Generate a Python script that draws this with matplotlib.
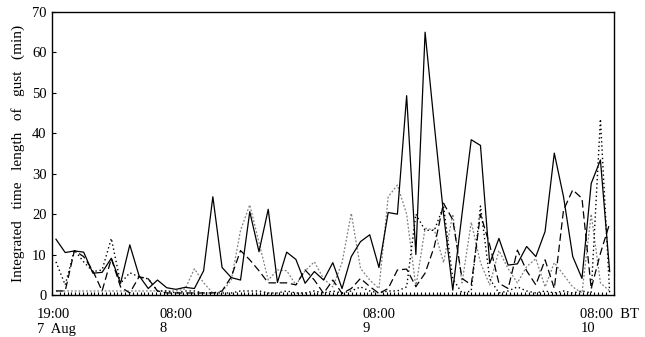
import numpy as np
import matplotlib.pyplot as plt
from matplotlib.ticker import MultipleLocator

# hourly values, 19:00 7 Aug onwards
hours = np.arange(61)

solid = [13.8, 10.5, 10.9, 10.6, 5.4, 5.6, 9.1, 2.9, 12.4, 4.8,
         1.6, 3.7, 1.8, 1.4, 1.9, 1.6, 6.0, 24.3, 6.8, 4.3,
         3.7, 20.6, 10.7, 21.2, 3.1, 10.6, 8.8, 2.9, 5.8, 3.7,
         8.0, 1.6, 9.5, 13.2, 14.9, 6.8, 20.4, 20.0, 49.3, 10.0,
         65.0, 42.0, 20.0, 1.2, 20.0, 38.4, 37.0, 7.8, 14.0, 7.4,
         7.7, 12.0, 9.5, 15.7, 35.1, 24.3, 9.5, 4.1, 27.6, 33.4,
         5.8]

dashed = [1.0, 1.0, 11.0, 9.5, 6.0, 1.0, 9.0, 2.0, 0.5, 4.5,
          4.0, 1.0, 0.5, 0.5, 0.5, 0.5, 0.5, 0.5, 1.0, 4.5,
          11.0, 8.7, 6.0, 3.0, 3.0, 3.0, 2.5, 6.2, 3.7, 0.4,
          3.7, 0.4, 1.6, 4.1, 2.1, 0.4, 1.6, 6.2, 6.4, 2.1,
          5.4, 12.0, 22.7, 18.6, 4.1, 2.5, 20.0, 12.4, 2.9, 1.6,
          11.1, 6.0, 2.5, 8.7, 1.6, 21.0, 26.0, 23.9, 1.6, 10.3,
          17.7]

dotted = [8.2, 2.5, 11.1, 8.2, 5.8, 6.2, 14.0, 2.9, 5.5, 4.5,
          4.0, 1.0, 1.0, 0.5, 1.0, 1.0, 0.5, 0.5, 0.5, 0.5,
          1.0, 1.0, 1.0, 0.5, 0.5, 1.0, 0.5, 0.5, 1.0, 0.5,
          1.0, 0.5, 1.0, 2.0, 1.0, 0.5, 1.0, 1.0, 2.0, 20.0,
          16.0, 16.0, 22.0, 4.0, 0.5, 1.0, 22.0, 4.0, 0.5, 1.0,
          2.0, 1.0, 0.5, 1.0, 0.5, 1.0, 0.5, 1.0, 0.5, 43.5,
          0.5]

grey = [1.0, 1.0, 1.0, 1.0, 1.0, 1.0, 1.0, 1.0, 1.0, 1.0,
        1.0, 1.0, 1.0, 1.0, 1.5, 6.5, 3.0, 0.5, 0.8, 3.7,
        16.0, 22.3, 13.0, 3.7, 6.2, 6.0, 2.5, 6.0, 8.2, 4.0,
        2.0, 8.0, 20.2, 6.6, 3.7, 1.6, 24.3, 27.2, 20.0, 2.0,
        16.5, 16.1, 8.0, 20.0, 3.0, 18.0, 8.0, 2.5, 11.0, 6.5,
        3.0, 7.0, 9.0, 2.0, 8.0, 5.0, 2.0, 0.5, 20.0, 3.0,
        1.0]

tick_pos = [0, 13, 35, 60]
tick_labels = ['19:00\n7  Aug', '08:00\n8', '08:00\n9', '08:00  BT\n10']

plt.rcParams['font.family'] = ['Liberation Serif', 'DejaVu Serif']
fig = plt.figure(figsize=(6.45, 3.37), dpi=100)
ax = fig.add_axes([52 / 645, 42 / 337, 562 / 645, 283 / 337])

ax.plot(hours, grey, color='0.5', lw=0.9, ls=(0, (1.5, 1.5)))
ax.plot(hours, dotted, color='k', lw=1.0, ls=(0, (1, 2)))
ax.plot(hours, dashed, color='k', lw=0.9, ls=(0, (6, 3)))
ax.plot(hours, solid, color='k', lw=0.9)

ax.set_xlim(-0.43, 60.47)
ax.set_ylim(0, 70)
ax.set_yticks(np.arange(0, 71, 10))
ax.set_xticks(tick_pos)
ax.set_xticklabels(tick_labels)
for lab in ax.get_xticklabels():
    lab.set_multialignment('left')
ax.xaxis.set_minor_locator(MultipleLocator(5 / 12))
ax.tick_params(axis='x', which='major', length=0, pad=9, labelsize=10.5)
ax.tick_params(axis='x', which='minor', direction='in', length=2.5, width=0.8)
ax.tick_params(axis='y', direction='in', length=3, width=0.8, labelsize=10.5, pad=4)
for sp in ax.spines.values():
    sp.set_linewidth(1.0)
ax.set_ylabel('Integrated   time   length   of   gust   (min)', fontsize=11, labelpad=5)

fig.savefig('out.png', dpi=100)
